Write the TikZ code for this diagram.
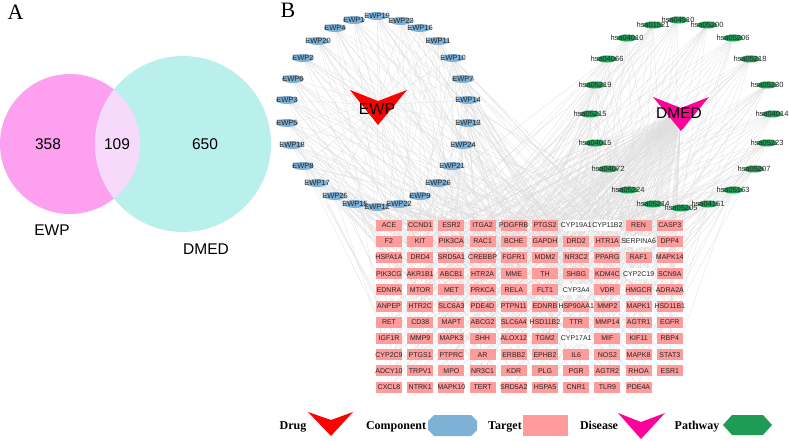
\documentclass[tikz,border=0pt]{standalone}
\usepackage{fontspec}
\setmainfont{Liberation Serif}
\newfontfamily\arialf{Liberation Sans}
\usetikzlibrary{shapes.geometric}
\pgfdeclarelayer{bg}
\pgfdeclarelayer{back}
\pgfsetlayers{back,bg,main}
\definecolor{venL}{RGB}{252,160,239}
\definecolor{venR}{RGB}{186,240,236}
\definecolor{venI}{RGB}{247,217,251}
\definecolor{compC}{RGB}{126,177,214}
\definecolor{tgtC}{RGB}{255,155,155}
\definecolor{pathC}{RGB}{30,155,85}
\definecolor{disC}{RGB}{255,0,153}
\definecolor{drugC}{RGB}{255,0,0}
\definecolor{edgeC}{RGB}{222,222,222}
\expandafter\def\csname nbCYP19A1\endcsname{}
\expandafter\def\csname nbCYP11B2\endcsname{}
\expandafter\def\csname nbSERPINA6\endcsname{}
\expandafter\def\csname nbCYP2C19\endcsname{}
\expandafter\def\csname nbCYP3A4\endcsname{}
\expandafter\def\csname nbCYP17A1\endcsname{}
\begin{document}
\begin{tikzpicture}[x=1pt,y=-1pt,
  comp/.style={ellipse, fill=compC, minimum width=22pt, minimum height=8pt, inner sep=0pt},
  pathw/.style={ellipse, fill=pathC, minimum width=20pt, minimum height=7pt, inner sep=0pt},
  tgt/.style={rectangle, minimum width=26pt, minimum height=11pt, inner sep=0pt},
  lab/.style={font=\arialf\fontsize{7}{8}\selectfont, text=black!85, inner sep=0pt},
  lab2/.style={font=\arialf\fontsize{7.5}{8}\selectfont, text=black!85, inner sep=0pt},
  lnk/.style={draw=edgeC, line width=0.25pt},
  big/.style={font=\arialf\fontsize{15.5}{18}\selectfont, anchor=base, inner sep=0pt},
  panel/.style={font=\fontsize{22}{24}\selectfont, anchor=base, inner sep=0pt},
  legtxt/.style={font=\bfseries\fontsize{12}{14}\selectfont, anchor=base, inner sep=0pt}]
\useasboundingbox (0,0) rectangle (789,441);
\begin{pgfonlayer}{back}
\fill[white] (0,0) rectangle (789,441);
\end{pgfonlayer}
% Panel A: Venn
\fill[venL] (70,144) circle (70pt);
\fill[venR] (183,144) circle (88pt);
\begin{scope}
  \clip (70,144) circle (70pt);
  \fill[venI] (183,144) circle (88pt);
\end{scope}
\node[panel] (pA) at (15.5,20) {A};
\node[big] (n358) at (48,149) {358};
\node[big] (n109) at (117,149) {109};
\node[big] (n650) at (205,149) {650};
\node[big] (lewp) at (52,235) {EWP};
\node[big] (ldmed) at (206,254) {DMED};
% Panel B
\node[panel] (pB) at (288,18) {B};
% drug and disease
\fill[drugC] (350,90) -- (378,101) -- (407,90) -- (378,125) -- cycle;
\coordinate (ewp) at (378,105);
\node[big, font=\arialf\fontsize{16}{18}\selectfont] (ewpl) at (377,114.5) {EWP};
\fill[disC] (653,97) -- (681,108) -- (709,97) -- (681,131) -- cycle;
\coordinate (dmed) at (681,112);
\node[big] (dmedl) at (679,118) {DMED};
% components
\foreach \lab/\x/\y [count=\i] in {EWP1/354/20, EWP19/377/16, EWP23/401/21, EWP4/335/28, EWP16/420/28, EWP20/318/41, EWP11/438/41, EWP2/303/58, EWP10/453/58, EWP6/293/79, EWP7/463/79, EWP3/287/100, EWP14/468/100, EWP5/287/123, EWP13/468/123, EWP18/292/145, EWP24/463/145, EWP8/303/166, EWP21/452/166, EWP17/317/183, EWP26/438/183, EWP25/335/196, EWP9/420/196, EWP15/355/204, EWP12/377/207, EWP22/399/204}{
  \node[comp] (c\i) at (\x,\y) {};
  \node[lab2] (cl\i) at (c\i) {\lab};
}
% pathways
\foreach \lab/\x/\y [count=\i] in {hsa04510/678/20, hsa01521/653/25, hsa05200/707/25, hsa04010/627/38, hsa05206/733/38, hsa04066/607/59, hsa05218/750/59, hsa05219/595/85, hsa05230/767/85, hsa05215/590/114, hsa04014/772/114, hsa04015/595/143, hsa05223/767/143, hsa04072/608/169, hsa05207/754/169, hsa05224/628/190, hsa05163/733/190, hsa05214/653/204, hsa04151/708/204, hsa05205/681/208}{
  \node[pathw] (p\i) at (\x,\y) {};
  \node[lab2] (pl\i) at (p\i) {\lab};
}
% targets
\foreach \lab [count=\k from 0] in {ACE,CCND1,ESR2,ITGA2,PDGFRB,PTGS2,CYP19A1,CYP11B2,REN,CASP3,
F2,KIT,PIK3CA,RAC1,BCHE,GAPDH,DRD2,HTR1A,SERPINA6,DPP4,
HSPA1A,DRD4,SRD5A1,CREBBP,FGFR1,MDM2,NR3C2,PPARG,RAF1,MAPK14,
PIK3CG,AKR1B1,ABCB1,HTR2A,MME,TH,SHBG,KDM4C,CYP2C19,SCN9A,
EDNRA,MTOR,MET,PRKCA,RELA,FLT1,CYP3A4,VDR,HMGCR,ADRA2A,
ANPEP,HTR2C,SLC6A3,PDE4D,PTPN11,EDNRB,HSP90AA1,MMP2,MAPK1,HSD11B1,
RET,CD38,MAPT,ABCG2,SLC6A4,HSD11B2,TTR,MMP14,AGTR1,EGFR,
IGF1R,MMP9,MAPK3,SHH,ALOX12,TGM2,CYP17A1,MIF,KIF11,RBP4,
CYP2C9,PTGS1,PTPRC,AR,ERBB2,EPHB2,IL6,NOS2,MAPK8,STAT3,
ADCY10,TRPV1,MPO,NR3C1,KDR,PLG,PGR,AGTR2,RHOA,ESR1,
CXCL8,NTRK1,MAPK10,TERT,SRD5A2,HSPA5,CNR1,TLR9,PDE4A}{
  \pgfmathtruncatemacro\col{mod(\k,10)}
  \pgfmathtruncatemacro\row{div(\k,10)}
  \pgfmathtruncatemacro\idx{\k+1}
  \ifcsname nb\lab\endcsname\def\tfill{white}\else\def\tfill{tgtC}\fi
  \node[tgt, fill=\tfill] (t\idx) at ({389+\col*31.2},{225+\row*16.2}) {};
  \node[lab] (tl\idx) at (t\idx) {\lab};
}
% edges
\begin{pgfonlayer}{bg}
\foreach \i in {1,...,26}{\draw[lnk] (ewp) -- (c\i.center);}
\foreach \j in {1,...,109}{\draw[lnk] (dmed) -- (t\j.center);}
\foreach \i in {1,...,26}{\foreach \j in {1,...,109}{%
  \pgfmathtruncatemacro\r{mod(\i*7+\j*5,13)}%
  \ifnum\r=0 \draw[lnk] (c\i.center) -- (t\j.center);\fi}}
\foreach \i in {1,...,20}{\foreach \j in {1,...,109}{%
  \pgfmathtruncatemacro\r{mod(\i*3+\j*4,11)}%
  \ifnum\r=0 \draw[lnk] (p\i.center) -- (t\j.center);\fi}}
\end{pgfonlayer}
% legend
\node[legtxt] (lgDrug) at (293,429) {Drug};
\fill[drugC] (308,412) -- (331,420) -- (353,412) -- (331,436) -- cycle;
\node[legtxt] (lgComp) at (396,429) {Component};
\fill[compC] (434,415) -- (471,415) -- (477,421) -- (477,430) -- (471,436) -- (434,436) -- (428,430) -- (428,421) -- cycle;
\node[legtxt] (lgTgt) at (505,429) {Target};
\fill[tgtC] (523,415) rectangle (568,436);
\node[legtxt] (lgDis) at (599,429) {Disease};
\fill[disC] (618,413) -- (641,422) -- (665,413) -- (641,439) -- cycle;
\node[legtxt] (lgPath) at (697,429) {Pathway};
\fill[pathC] (723,425) -- (732,415) -- (763,415) -- (772,425) -- (763,435) -- (732,435) -- cycle;
\end{tikzpicture}
\end{document}
